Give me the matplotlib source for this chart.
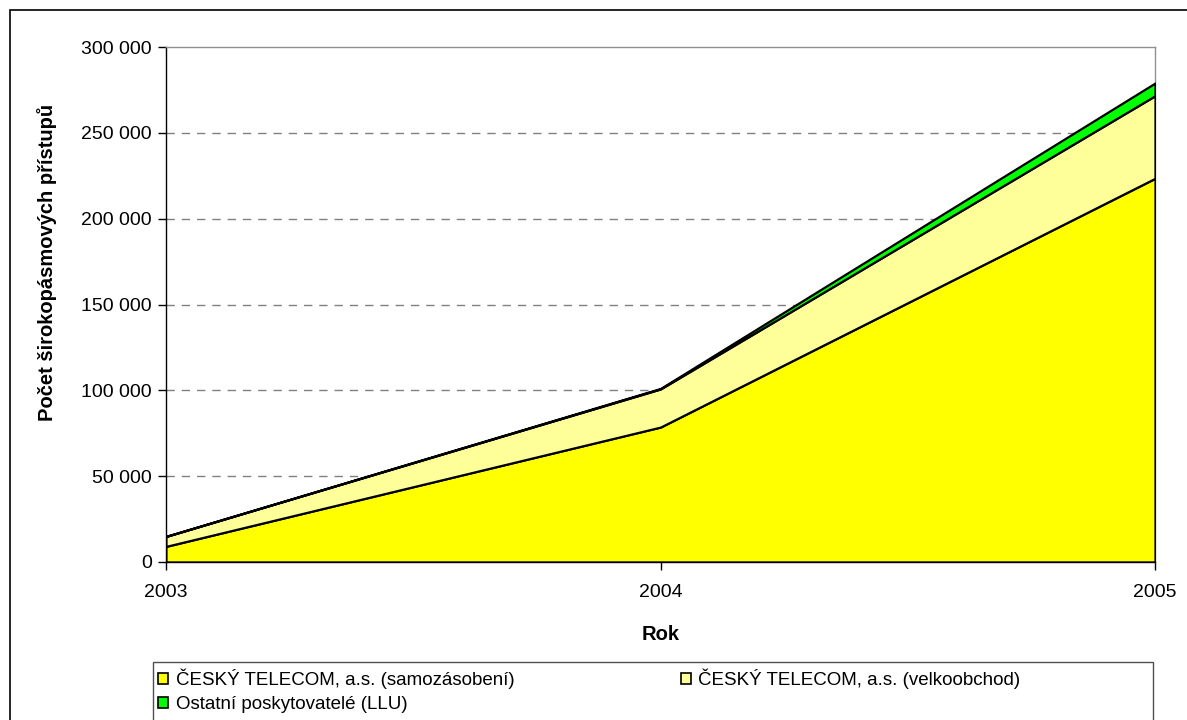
import matplotlib
matplotlib.use("Agg")
import matplotlib.pyplot as plt
from matplotlib.patches import Rectangle, Patch
from matplotlib.ticker import FuncFormatter

plt.rcParams['font.family'] = ['Liberation Sans', 'DejaVu Sans']

years = [2003, 2004, 2005]
samozasobeni = [9100, 78600, 223500]
velkoobchod = [5800, 22200, 48100]
llu = [0, 300, 7400]
labels = ["ČESKÝ TELECOM, a.s. (samozásobení)",
          "ČESKÝ TELECOM, a.s. (velkoobchod)",
          "Ostatní poskytovatelé (LLU)"]
colors = ["#FFFF00", "#FFFF99", "#00FF00"]
yticks = [0, 50000, 100000, 150000, 200000, 250000, 300000]

W, H = 1187, 720
fig = plt.figure(figsize=(W / 100, H / 100), dpi=100)
ax = fig.add_axes([166 / W, 1 - 562 / H, (1155 - 166) / W, (562 - 47) / H])

ax.stackplot(years, samozasobeni, velkoobchod, llu, colors=colors,
             edgecolor="black", linewidth=1.6, zorder=3)

ax.set_xlim(2003, 2005)
ax.set_ylim(0, 300000)
ax.set_yticks(yticks)
ax.set_xticks(years)
ax.yaxis.set_major_formatter(FuncFormatter(lambda v, p: f"{int(v):,}".replace(",", " ")))
ax.xaxis.set_major_formatter(FuncFormatter(lambda v, p: f"{int(v)}"))
ax.tick_params(axis="both", direction="out", length=6, width=1, labelsize=14, color="black")
ax.tick_params(axis="y", pad=4)
ax.tick_params(axis="x", pad=10)

for y in yticks[1:-1]:
    ax.axhline(y, color="#808080", linewidth=1, linestyle=(0, (6, 5)), zorder=1)

ax.spines["top"].set_color("#909090")
ax.spines["right"].set_color("#909090")
ax.spines["left"].set_color("black")
ax.spines["bottom"].set_color("black")
for s in ax.spines.values():
    s.set_linewidth(1)
ax.spines["bottom"].set_zorder(4)

ax.set_xlabel("Rok", fontsize=14.5, fontweight="bold", labelpad=17)
ax.set_ylabel("Počet širokopásmových přístupů", fontsize=14.5, fontweight="bold")
ax.yaxis.set_label_coords((57 - 166) / 989, (562 - 262) / 515)

# outer chart frame
fig.add_artist(Rectangle((10 / W, -0.5), 2, 1.5 - 10 / H, transform=fig.transFigure,
                         fill=False, edgecolor="black", linewidth=1.2))
# legend frame (extends past bottom)
fig.add_artist(Rectangle((153 / W, -0.2), (1153 - 153) / W, 0.2 + 1 - 662 / H,
                         transform=fig.transFigure, fill=False, edgecolor="#505050", linewidth=1))

handles = [Patch(facecolor=c, edgecolor="black", linewidth=1.2) for c in colors]
order = [0, 2, 1]
leg = fig.legend([handles[i] for i in order], [labels[i] for i in order],
                 ncol=2, loc="upper left", bbox_to_anchor=(154 / W, 1 - 665 / H),
                 frameon=False, fontsize=13.5, handlelength=0.55, handleheight=0.55,
                 handletextpad=0.4, columnspacing=8.87, labelspacing=0.38,
                 borderpad=0.2, borderaxespad=0)

fig.savefig("out.png", dpi=100)
